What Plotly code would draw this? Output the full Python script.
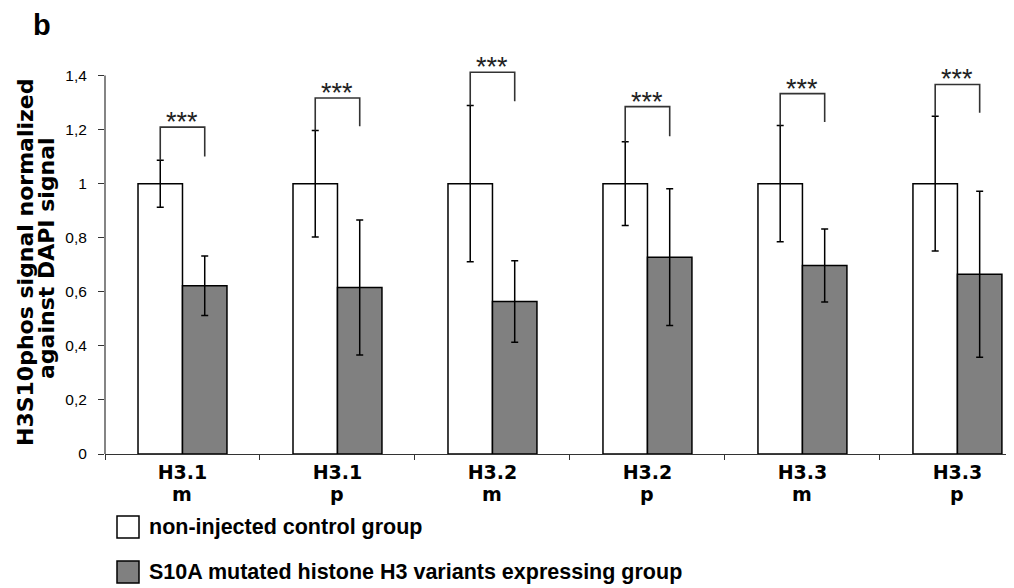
import plotly.graph_objects as go

categories = ["H3.1 m", "H3.1 p", "H3.2 m", "H3.2 p", "H3.3 m", "H3.3 p"]
tick_line1 = ["H3.1", "H3.1", "H3.2", "H3.2", "H3.3", "H3.3"]
tick_line2 = ["m", "p", "m", "p", "m", "p"]
control_vals = [1.0, 1.0, 1.0, 1.0, 1.0, 1.0]
control_err = [0.087, 0.197, 0.289, 0.155, 0.215, 0.249]
mutant_vals = [0.622, 0.616, 0.564, 0.728, 0.697, 0.665]
mutant_err = [0.11, 0.25, 0.151, 0.253, 0.135, 0.307]
bracket_top = [1.209, 1.317, 1.412, 1.285, 1.333, 1.367]
bracket_right_bottom = [1.10, 1.212, 1.305, 1.175, 1.228, 1.262]
sig_labels = ["***"] * 6
legend_names = ["non-injected control group", "S10A mutated histone H3 variants expressing group"]
yticks = [0, 0.2, 0.4, 0.6, 0.8, 1.0, 1.2, 1.4]

BARGAP = 0.426
off = (1 - BARGAP) / 4
SANS = "Liberation Sans, Arial, sans-serif"
HEAVY = "DejaVu Sans, sans-serif"

# page geometry of the plot area
PX0, PX1, PY0, PY1 = 105, 1014, 62, 454
PW, PH = PX1 - PX0, PY1 - PY0


def px(X):
    return (X - PX0) / PW


def py(Y):
    return (PY1 - Y) / PH


fig = go.Figure()
fig.add_trace(go.Bar(
    x=categories, y=control_vals, name=legend_names[0],
    marker=dict(color="white", line=dict(color="black", width=1.5)),
    error_y=dict(type="data", array=control_err, color="black", thickness=1.5, width=3.5),
    showlegend=False,
))
fig.add_trace(go.Bar(
    x=categories, y=mutant_vals, name=legend_names[1],
    marker=dict(color="#808080", line=dict(color="black", width=1.5)),
    error_y=dict(type="data", array=mutant_err, color="black", thickness=1.5, width=3.5),
    showlegend=False,
))

shapes = []
annotations = []
for i in range(len(categories)):
    xl = i - off
    xr = i + off
    y0 = control_vals[i] + control_err[i]
    shapes.append(dict(type="path", xref="x", yref="y",
                       path=f"M {xl},{y0} L {xl},{bracket_top[i]} L {xr},{bracket_top[i]} L {xr},{bracket_right_bottom[i]}",
                       line=dict(color="#333333", width=1.6)))
    annotations.append(dict(x=i, y=bracket_top[i], xref="x", yref="y", text=sig_labels[i],
                            showarrow=False, yanchor="bottom", yshift=-12,
                            font=dict(family=SANS, size=27, color="#222")))
    annotations.append(dict(x=i, y=py(494), xref="x", yref="paper", text=f"<b>{tick_line2[i]}</b>",
                            showarrow=False, yanchor="middle",
                            font=dict(family=HEAVY, size=19, color="black")))

# y axis line up to the top tick
shapes.append(dict(type="line", xref="paper", yref="y", x0=0, x1=0, y0=0, y1=yticks[-1],
                   line=dict(color="#333333", width=1.2)))

# custom legend
leg_fill = ["white", "#808080"]
leg_box = [(516, 538), (561, 583)]
leg_text_y = [527, 572]
for k in range(2):
    shapes.append(dict(type="rect", xref="paper", yref="paper",
                       x0=px(117), x1=px(139), y0=py(leg_box[k][1]), y1=py(leg_box[k][0]),
                       fillcolor=leg_fill[k], line=dict(color="black", width=1.5)))
    annotations.append(dict(x=px(147), y=py(leg_text_y[k]), xref="paper", yref="paper",
                            text=f"<b>{legend_names[k]}</b>", showarrow=False,
                            xanchor="left", yanchor="middle",
                            font=dict(family=SANS, size=21.5, color="black")))

# y-axis title as two tight lines
annotations.append(dict(x=px(25), y=py(262), xref="paper", yref="paper",
                        text="<b>H3S10phos signal normalized</b>", textangle=-90, showarrow=False,
                        xanchor="center", yanchor="middle",
                        font=dict(family=HEAVY, size=22, color="black")))
annotations.append(dict(x=px(46), y=py(258), xref="paper", yref="paper",
                        text="<b>against DAPI signal</b>", textangle=-90, showarrow=False,
                        xanchor="center", yanchor="middle",
                        font=dict(family=HEAVY, size=22, color="black")))
# panel letter
annotations.append(dict(x=px(42), y=py(25), xref="paper", yref="paper",
                        text="<b>b</b>", showarrow=False, xanchor="center", yanchor="middle",
                        font=dict(family=SANS, size=29, color="black")))

fig.update_layout(
    width=1006, height=580,
    margin=dict(l=97, r=0, t=54, b=134),
    paper_bgcolor="white", plot_bgcolor="white",
    barmode="group", bargap=BARGAP, bargroupgap=0,
    separators=",.",
    shapes=shapes,
    annotations=annotations,
    xaxis=dict(
        type="category", range=[-0.5, 5.365], tickson="boundaries",
        tickmode="array", tickvals=categories, ticktext=[f"<b>{t}</b>" for t in tick_line1],
        ticks="outside", ticklen=5, tickcolor="#333", tickwidth=1,
        ticklabelstandoff=1,
        showline=True, linecolor="#333", linewidth=1.2,
        tickfont=dict(family=HEAVY, size=19, color="black"),
        showgrid=False, zeroline=False,
    ),
    yaxis=dict(
        range=[0, 1.45], tickvals=yticks, ticks="outside", ticklen=6,
        ticklabelstandoff=8,
        tickcolor="#333", tickwidth=1, showline=False, showgrid=False, zeroline=False,
        tickfont=dict(family=SANS, size=15.5, color="black"),
    ),
)

fig.write_html("out.html")
